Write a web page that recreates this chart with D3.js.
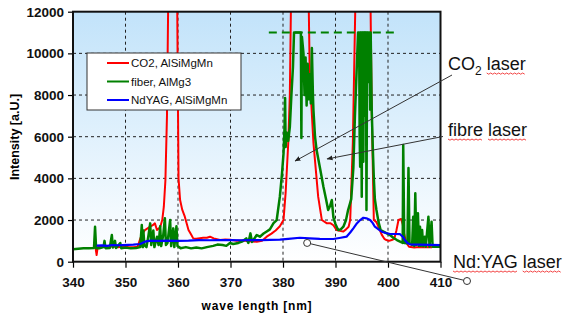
<!DOCTYPE html>
<html>
<head>
<meta charset="utf-8">
<script src="https://cdn.jsdelivr.net/npm/d3@7"></script>
<style>
body { margin: 0; background: #fff; }
svg text { font-family: "Liberation Sans", Arial, sans-serif; }
</style>
</head>
<body>
<svg id="chart" width="568" height="322"></svg>
<script>
// spectra: [wave length nm, intensity a.U.]
var co2Data = [[344.3,650],[344.5,320],[344.7,700],[345.5,730],[346.5,700],[347.5,740],[348.5,690],[349.5,720],[350.5,700],[351.5,690],[352.3,720],[352.8,1100],[353.2,1350],[353.7,1520],[354.2,1600],[354.7,1680],[355.2,1750],[355.6,1840],[356,1520],[356.6,1650],[357,2000],[357.3,2640],[357.6,3900],[357.9,7000],[358.2,14000],[359.8,14000],[360.1,4000],[360.4,2960],[360.8,2500],[361.3,2160],[362,1520],[362.5,1300],[362.9,1120],[363.5,1100],[364.8,1150],[365.5,1150],[366.1,1200],[366.8,1120],[368,1040],[369,1060],[370,1050],[371.2,1000],[372.5,1020],[373.5,980],[375,960],[376,1000],[376.9,1200],[377.8,1350],[378.6,1500],[379.4,1700],[380.1,2000],[380.5,3300],[381,5700],[381.3,8000],[381.6,14000],[384.8,14000],[385.1,8900],[385.8,5700],[386.7,3120],[387.4,2000],[388.3,1850],[389,1850],[389.6,1750],[390.2,1520],[390.8,1480],[391.5,1450],[392,1550],[392.5,1680],[392.8,2000],[393.3,5700],[393.9,14000],[396.6,14000],[396.9,7280],[397.3,2000],[397.8,1900],[398.3,1600],[398.8,1300],[399.3,1100],[399.7,1040],[400.2,1000],[400.7,1040],[401.2,1100],[401.6,1500],[402,2000],[402.5,2050],[402.8,1800],[403.1,1300],[403.5,900],[404,720],[405,680],[406,700],[407,690],[408,700],[408.4,690]];

var fiberData = [[340,600],[341,620],[342,640],[343,650],[344,660],[344.2,1680],[344.4,650],[345,640],[345.8,700],[346,1000],[346.2,650],[347,660],[347.4,1280],[347.6,680],[348,1000],[348.2,660],[349,900],[349.2,650],[350,680],[351,640],[352,660],[352.8,700],[353.1,1760],[353.3,700],[353.4,1500],[353.6,800],[354,700],[354.4,1300],[354.7,1840],[354.9,800],[355.3,1500],[355.5,700],[356,1200],[356.3,800],[356.6,1700],[356.8,750],[357.2,1300],[357.5,2080],[357.7,800],[358,900],[358.5,2000],[358.7,750],[359.1,1600],[359.3,700],[359.7,1700],[359.9,750],[360.5,650],[361.5,700],[362.5,640],[363.5,680],[364.5,640],[365.5,700],[366.7,760],[367.5,820],[368.5,800],[369.2,760],[369.9,900],[370.5,850],[371.5,900],[372.3,980],[373,1120],[373.4,900],[373.8,1360],[374.1,950],[375,1280],[375.6,1200],[376.3,1350],[376.9,1450],[377.5,1550],[378.2,1850],[378.8,2000],[379.4,3120],[379.8,4200],[380.1,5200],[380.3,6500],[380.4,7860],[380.5,5500],[380.7,6200],[381.0,5800],[381.3,6460],[381.6,8000],[381.9,9360],[382.1,11000],[383.4,11000],[383.5,5940],[383.6,10800],[383.9,10000],[384.1,8000],[384.3,9800],[384.5,7500],[384.7,9500],[384.9,7800],[385.1,9000],[385.3,7600],[385.5,10260],[385.7,8000],[385.8,7280],[386.1,6000],[386.4,5360],[387,4560],[387.7,3600],[388.2,3000],[388.6,2480],[389.0,2700],[389.3,2960],[389.6,2130],[390,1800],[390.5,1520],[391,1550],[391.5,1680],[392,2000],[392.4,2480],[393.0,3000],[393.4,4500],[393.7,7000],[394.0,9000],[394.3,11000],[394.5,11000],[394.6,6000],[394.7,4560],[394.8,11000],[394.9,8000],[395.0,3120],[395.1,11000],[395.2,9000],[395.3,4800],[395.4,11000],[395.6,11000],[395.7,7000],[395.8,11000],[395.9,2480],[396.0,9000],[396.1,11000],[396.2,8620],[396.3,11000],[396.5,11000],[396.6,7300],[396.7,11000],[396.9,7280],[397.1,5500],[397.3,4000],[397.5,3000],[397.8,2480],[398.2,1900],[398.6,1520],[399.5,1400],[400.4,1280],[401,1150],[401.7,1040],[402.4,950],[402.8,900],[402.9,5600],[403.1,900],[403.7,880],[403.9,4500],[404.1,900],[404.6,800],[404.8,2160],[405,750],[405.2,3280],[405.4,800],[405.7,2330],[405.9,760],[406.1,1680],[406.3,760],[406.5,1520],[406.7,740],[407,1200],[407.2,720],[407.7,2160],[407.9,720],[408.3,1920],[408.5,720],[409,730],[410,720]];

var ndyagData = [[344.5,770],[345.5,780],[346.5,760],[347.5,800],[348.5,790],[349.5,800],[350.5,810],[351.5,820],[352.8,850],[353.7,960],[354.7,1010],[356,1000],[358,1010],[360,1000],[362,1010],[364,1040],[366,1030],[368,1040],[370,1040],[372,1030],[374,1040],[376,1040],[377.5,1050],[379.4,1060],[381,1100],[383.2,1150],[385.1,1120],[387,1100],[389.6,1090],[391,1150],[392.1,1200],[392.8,1400],[393.4,1600],[394.1,1850],[394.7,2000],[395.3,2110],[395.9,2080],[396.6,2000],[397.1,1850],[397.5,1680],[398.2,1550],[398.8,1440],[399.6,1380],[400.4,1330],[401.5,1330],[402.3,1320],[402.8,1200],[403.2,1040],[403.7,900],[404.2,830],[406,820],[408,810],[410,800]];

var seriesNames = ["CO2, AlSiMgMn", "fiber, AlMg3", "NdYAG, AlSiMgMn"];
var seriesColors = ["#ff0000", "#008000", "#0000ff"];
var xTicks = [340, 350, 360, 370, 380, 390, 400, 410];
var yTicks = [0, 2000, 4000, 6000, 8000, 10000, 12000];
var saturationX = [377.3, 401.3];
var saturationY = 11000;

// annotation labels and where their arrows point (data units)
var notes = [
    { label: "CO2 laser", tx: 382.3, ty: 4830, kind: "arrow" },
    { label: "fibre laser", tx: 388.4, ty: 4930, kind: "arrow" },
    { label: "Nd:YAG laser", tx: 384.6, ty: 900, kind: "dot" }
];

var svg = d3.select("#chart");
var pLeft = 73, pRight = 440.5, pTop = 11.7, pBottom = 261.7;

var x = d3.scaleLinear().domain([340, 410]).range([pLeft, pRight]);
var y = d3.scaleLinear().domain([0, 12000]).range([pBottom, pTop]);

var defs = svg.append("defs");
var grad = defs.append("linearGradient")
    .attr("id", "bg").attr("x1", 0).attr("y1", 0).attr("x2", 0).attr("y2", 1);
grad.append("stop").attr("offset", "0%").attr("stop-color", "#c2e3fa");
grad.append("stop").attr("offset", "100%").attr("stop-color", "#ffffff");
defs.append("clipPath").attr("id", "plotClip")
    .append("rect")
    .attr("x", pLeft).attr("y", pTop)
    .attr("width", pRight - pLeft).attr("height", pBottom - pTop);
defs.append("marker")
    .attr("id", "arrowHead")
    .attr("viewBox", "0 0 10 10")
    .attr("refX", 9).attr("refY", 5)
    .attr("markerWidth", 6).attr("markerHeight", 6)
    .attr("markerUnits", "userSpaceOnUse")
    .attr("orient", "auto")
    .append("path").attr("d", "M0,1 L10,5 L0,9 z").attr("fill", "#222");

svg.append("rect")
    .attr("x", pLeft).attr("y", pTop)
    .attr("width", pRight - pLeft).attr("height", pBottom - pTop)
    .attr("fill", "url(#bg)");

// dashed grid
svg.append("g").selectAll("line")
    .data(xTicks.slice(1, -1))
    .enter().append("line")
    .attr("x1", function (d) { return x(d); })
    .attr("x2", function (d) { return x(d); })
    .attr("y1", pTop).attr("y2", pBottom)
    .attr("stroke", "#222").attr("stroke-width", 1)
    .attr("stroke-dasharray", "3,3");
svg.append("g").selectAll("line")
    .data(yTicks.slice(1, -1))
    .enter().append("line")
    .attr("y1", function (d) { return y(d); })
    .attr("y2", function (d) { return y(d); })
    .attr("x1", pLeft).attr("x2", pRight)
    .attr("stroke", "#222").attr("stroke-width", 1)
    .attr("stroke-dasharray", "3,3");

// spectra
var line = d3.line()
    .x(function (d) { return x(d[0]); })
    .y(function (d) { return y(d[1]); });
var plot = svg.append("g").attr("clip-path", "url(#plotClip)");
var widths = [2, 2.5, 2.2];
[co2Data, fiberData, ndyagData].forEach(function (data, i) {
    plot.append("path")
        .datum(data)
        .attr("d", line)
        .attr("fill", "none")
        .attr("stroke", seriesColors[i])
        .attr("stroke-width", widths[i])
        .attr("stroke-linejoin", "round");
});

// saturation level of the fibre spectrum
svg.append("line")
    .attr("x1", x(saturationX[0])).attr("x2", x(saturationX[1]))
    .attr("y1", y(saturationY)).attr("y2", y(saturationY))
    .attr("stroke", "#008000").attr("stroke-width", 2)
    .attr("stroke-dasharray", "8,5");

// axes
var yAxis = svg.append("g")
    .attr("transform", "translate(" + pLeft + ",0)")
    .call(d3.axisLeft(y).tickValues(yTicks).tickSize(5).tickPadding(4).tickFormat(d3.format("d")));
var xAxis = svg.append("g")
    .attr("transform", "translate(0," + pBottom + ")")
    .call(d3.axisBottom(x).tickValues(xTicks).tickSize(6).tickPadding(10).tickFormat(d3.format("d")));
[xAxis, yAxis].forEach(function (a) {
    a.select(".domain").remove();
    a.selectAll(".tick line").attr("stroke", "#000").attr("stroke-width", 1.2);
    a.selectAll("text")
        .attr("fill", "#111")
        .style("font-size", "13.5px")
        .style("font-weight", "bold");
});

// frame
svg.append("rect")
    .attr("x", pLeft).attr("y", pTop)
    .attr("width", pRight - pLeft).attr("height", pBottom - pTop)
    .attr("fill", "none").attr("stroke", "#111").attr("stroke-width", 2);

svg.append("text")
    .attr("x", 257).attr("y", 310)
    .attr("text-anchor", "middle")
    .style("font-size", "12px").style("font-weight", "bold")
    .style("letter-spacing", "0.8px")
    .text("wave length [nm]");
svg.append("text")
    .attr("transform", "translate(19,137) rotate(-90)")
    .attr("text-anchor", "middle")
    .style("font-size", "12.5px").style("font-weight", "bold")
    .text("Intensity [a.U.]");

// legend
var legend = svg.append("g");
legend.append("rect")
    .attr("x", 87).attr("y", 53).attr("width", 154).attr("height", 57)
    .attr("fill", "#fff").attr("stroke", "#333").attr("stroke-width", 1);
seriesNames.forEach(function (name, i) {
    var ly = 63 + i * 18.5;
    legend.append("line")
        .attr("x1", 107).attr("x2", 129).attr("y1", ly).attr("y2", ly)
        .attr("stroke", seriesColors[i]).attr("stroke-width", 2);
    legend.append("text")
        .attr("x", 131).attr("y", ly + 4)
        .style("font-size", "11.5px").attr("fill", "#111")
        .text(name);
});

// annotations on the right
var labelPos = [[448, 70], [448, 136], [453, 268]];
var lineStart = [[452, 75], [443, 136.5], [467, 281]];
notes.forEach(function (n, i) {
    var tx = x(n.tx), ty = y(n.ty);
    var ln = svg.append("line")
        .attr("x1", lineStart[i][0]).attr("y1", lineStart[i][1])
        .attr("x2", tx).attr("y2", ty)
        .attr("stroke", "#333").attr("stroke-width", 1);
    if (n.kind == "arrow") {
        ln.attr("marker-end", "url(#arrowHead)");
    } else {
        [[lineStart[i][0], lineStart[i][1]], [tx, ty]].forEach(function (p) {
            svg.append("circle")
                .attr("cx", p[0]).attr("cy", p[1]).attr("r", 3.5)
                .attr("fill", "#fff").attr("stroke", "#333").attr("stroke-width", 1);
        });
    }
    var t = svg.append("text")
        .attr("x", labelPos[i][0]).attr("y", labelPos[i][1])
        .style("font-size", "18px").attr("fill", "#111");
    var words;
    if (i == 0) {
        t.append("tspan").text("CO");
        t.append("tspan").attr("dy", 5).style("font-size", "12px").text("2");
        t.append("tspan").attr("dy", -5).text(" laser");
        words = [[4, 5]];
    } else {
        t.text(n.label);
        words = i == 1 ? [[0, 5], [6, 5]] : [[0, 6], [7, 5]];
    }
    // spell-check squiggle under the words
    var node = t.node();
    words.forEach(function (w) {
        var sx = node.getStartPositionOfChar(w[0]).x;
        var len = node.getSubStringLength(w[0], w[1]);
        var base = labelPos[i][1] + 3;
        var pts = [];
        for (var k = 0; k * 2 <= len; k++) {
            pts.push([sx + k * 2, base + (k % 2 ? 1.2 : 0)]);
        }
        svg.append("path")
            .attr("d", d3.line()(pts))
            .attr("fill", "none").attr("stroke", "#f03030").attr("stroke-width", 0.9);
    });
});
</script>
</body>
</html>
